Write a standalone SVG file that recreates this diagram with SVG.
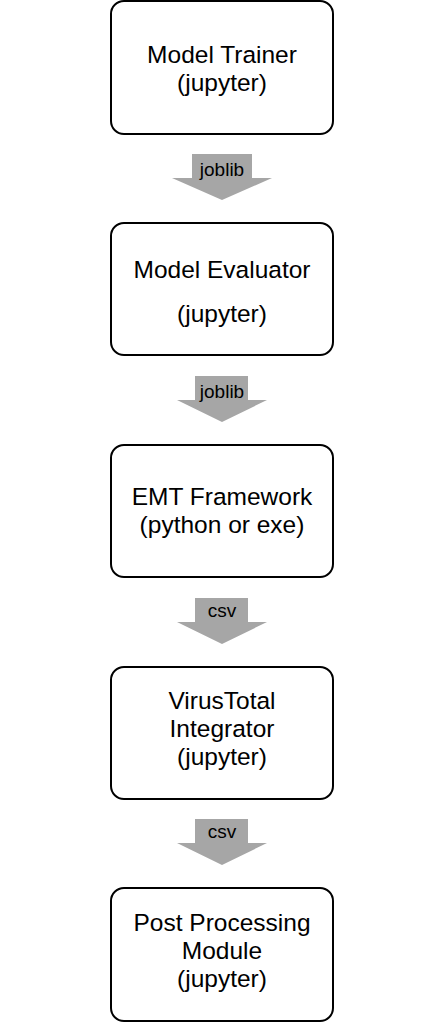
<svg xmlns="http://www.w3.org/2000/svg" width="444" height="1023" viewBox="0 0 444 1023">
<style>
.box{fill:#fff;stroke:#000;stroke-width:2}
.t{font-family:"Liberation Sans",Arial,sans-serif;font-size:24.5px;fill:#000;text-anchor:middle}
.a{fill:#a6a6a6}
.l{font-family:"Liberation Sans",Arial,sans-serif;font-size:19px;fill:#000;text-anchor:middle}
</style>
<rect width="444" height="1023" fill="#fff"/>
<g id="connectors">
<g id="arrow1"><polygon class="a" points="192,154 252,154 252,178 272,178 222,200 172,178 192,178"/><text class="l" x="222" y="176">joblib</text></g>
<g id="arrow2"><polygon class="a" points="195,376 248,376 248,400 267,400 222,422 177,400 195,400"/><text class="l" x="222" y="398">joblib</text></g>
<g id="arrow3"><polygon class="a" points="195,598 248,598 248,622 267,622 222,644 177,622 195,622"/><text class="l" x="222" y="617">csv</text></g>
<g id="arrow4"><polygon class="a" points="195,819 248,819 248,843 267,843 222,865 177,843 195,843"/><text class="l" x="222" y="838">csv</text></g>
</g>
<g id="n1"><rect class="box" x="111" y="1" width="222" height="133" rx="13"/><text class="t" x="222" y="63">Model Trainer</text><text class="t" x="222" y="91">(jupyter)</text></g>
<g id="n2"><rect class="box" x="111" y="223" width="222" height="132" rx="13"/><text class="t" x="222" y="278">Model Evaluator</text><text class="t" x="222" y="322">(jupyter)</text></g>
<g id="n3"><rect class="box" x="111" y="445" width="222" height="132" rx="13"/><text class="t" x="222" y="505">EMT Framework</text><text class="t" x="222" y="533">(python or exe)</text></g>
<g id="n4"><rect class="box" x="111" y="667" width="222" height="132" rx="13"/><text class="t" x="222" y="709">VirusTotal</text><text class="t" x="222" y="737">Integrator</text><text class="t" x="222" y="765">(jupyter)</text></g>
<g id="n5"><rect class="box" x="111" y="888" width="222" height="133" rx="13"/><text class="t" x="222" y="931">Post Processing</text><text class="t" x="222" y="959">Module</text><text class="t" x="222" y="987">(jupyter)</text></g>
</svg>
